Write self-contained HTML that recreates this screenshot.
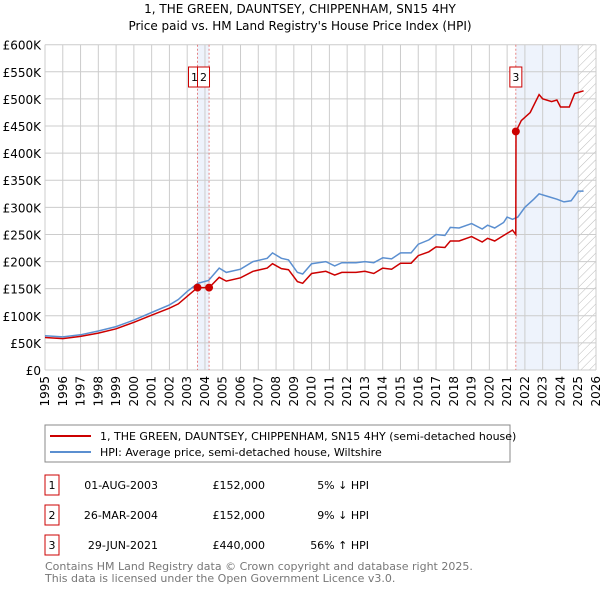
<!DOCTYPE html>
<html><head><meta charset="utf-8"><style>
body{margin:0;background:#fff;font-family:"Liberation Sans","DejaVu Sans",sans-serif;}
svg text{font-family:"DejaVu Sans","Liberation Sans",sans-serif;}
</style></head><body>
<svg id="c" width="600" height="590" xmlns="http://www.w3.org/2000/svg">
<defs><pattern id="h" width="6" height="6" patternUnits="userSpaceOnUse" patternTransform="rotate(45)"><line x1="0" y1="0" x2="0" y2="6" stroke="#bbb" stroke-width="1"/></pattern></defs>
<text x="300" y="13" text-anchor="middle" font-size="12">1, THE GREEN, DAUNTSEY, CHIPPENHAM, SN15 4HY</text>
<text x="300" y="30" text-anchor="middle" font-size="12">Price paid vs. HM Land Registry's House Price Index (HPI)</text>
<g id="plot"></g>
<rect x="45" y="425" width="465" height="37" fill="#fff" stroke="#888"/>
<line x1="50" y1="436" x2="91" y2="436" stroke="#cc0000" stroke-width="2"/>
<text x="100" y="440" font-size="11">1, THE GREEN, DAUNTSEY, CHIPPENHAM, SN15 4HY (semi-detached house)</text>
<line x1="50" y1="452" x2="91" y2="452" stroke="#5b8fd0" stroke-width="2"/>
<text x="100" y="456" font-size="11">HPI: Average price, semi-detached house, Wiltshire</text>
<g font-size="11">
<rect x="45" y="475" width="14" height="20" fill="#fff" stroke="#cc0000"/><text x="52" y="489" text-anchor="middle">1</text>
<text x="158" y="489" text-anchor="end">01-AUG-2003</text><text x="265" y="489" text-anchor="end">£152,000</text><text x="369" y="489" text-anchor="end">5% ↓ HPI</text>
<rect x="45" y="505" width="14" height="20" fill="#fff" stroke="#cc0000"/><text x="52" y="519" text-anchor="middle">2</text>
<text x="158" y="519" text-anchor="end">26-MAR-2004</text><text x="265" y="519" text-anchor="end">£152,000</text><text x="369" y="519" text-anchor="end">9% ↓ HPI</text>
<rect x="45" y="535" width="14" height="20" fill="#fff" stroke="#cc0000"/><text x="52" y="549" text-anchor="middle">3</text>
<text x="158" y="549" text-anchor="end">29-JUN-2021</text><text x="265" y="549" text-anchor="end">£440,000</text><text x="369" y="549" text-anchor="end">56% ↑ HPI</text>
</g>
<text x="45" y="570" font-size="11" fill="#777">Contains HM Land Registry data © Crown copyright and database right 2025.</text>
<text x="45" y="582" font-size="11" fill="#777">This data is licensed under the Open Government Licence v3.0.</text>
</svg>
<script>
const yTicks=[0,50,100,150,200,250,300,350,400,450,500,550,600];
const yearTicks=[1995,1996,1997,1998,1999,2000,2001,2002,2003,2004,2005,2006,2007,2008,2009,2010,2011,2012,2013,2014,2015,2016,2017,2018,2019,2020,2021,2022,2023,2024,2025,2026];
const hpiT=[1995,1996,1997,1998,1999,2000,2001,2002,2002.5,2003,2003.6,2004.2,2004.8,2005.2,2006,2006.7,2007.5,2007.8,2008.3,2008.7,2009.2,2009.5,2010,2010.8,2011.3,2011.7,2012.5,2013,2013.5,2014,2014.5,2015,2015.6,2016,2016.6,2017,2017.5,2017.8,2018.3,2019,2019.6,2019.9,2020.3,2020.8,2021,2021.3,2021.6,2022,2022.5,2022.8,2023.3,2023.8,2024.2,2024.6,2025,2025.3];
const hpiV=[63,61,65,72,80,92,106,120,130,145,160,165,188,180,186,200,206,216,206,203,180,177,196,200,192,198,198,200,198,207,205,216,216,232,240,250,248,263,262,270,260,267,262,272,282,278,282,300,315,325,320,315,310,312,330,330];
const priceT=[1995,1996,1997,1998,1999,2000,2001,2002,2002.5,2003,2003.58,2004.23,2004.8,2005.2,2006,2006.7,2007.5,2007.8,2008.3,2008.7,2009.2,2009.5,2010,2010.8,2011.3,2011.7,2012.5,2013,2013.5,2014,2014.5,2015,2015.6,2016,2016.6,2017,2017.5,2017.8,2018.3,2019,2019.6,2019.9,2020.3,2020.8,2021.3,2021.49,2021.5,2021.8,2022.3,2022.8,2023,2023.5,2023.8,2024,2024.5,2024.8,2025.3];
const priceV=[60,58,62,68,76,88,101,114,122,136,152,152,171,164,170,182,188,196,187,185,163,160,178,182,175,180,180,182,178,188,186,197,197,211,218,227,226,238,238,246,236,243,238,248,258,250,440,460,475,508,500,495,498,485,485,510,515];
const saleT=[2003.58,2004.23,2021.49];
const saleV=[152,152,440];
const saleLabels=["1","2","3"];
const NS="http://www.w3.org/2000/svg";
const L=45,R=596,T=44.7,B=370;
const x=v=>L+(v-1995)/(2026-1995)*(R-L);
const y=v=>B-v/600*(B-T);
const g=document.getElementById('plot');
function mk(t,a){const e=document.createElementNS(NS,t);for(const k in a)e.setAttribute(k,a[k]);g.appendChild(e);return e;}
let e;
e=mk('rect',{x:x(2003.58),y:T,width:x(2004.23)-x(2003.58),height:B-T,fill:'#eef3fc'});


e=mk('rect',{x:x(2021.49),y:T,width:x(2025)-x(2021.49),height:B-T,fill:'#eef3fc'});


e=mk('rect',{x:x(2025),y:T,width:R-x(2025),height:B-T,fill:'url(#h)'});


yTicks.forEach(v=>{
 e=mk('line',{x1:L,x2:R,y1:y(v),y2:y(v),stroke:'#ccc'});
 
 
 e=mk('text',{x:L-4,y:y(v)+5,'text-anchor':'end','font-size':'12'});e.textContent=v===0?'£0':'£'+v+'K';
 
 
});
yearTicks.forEach(v=>{
 e=mk('line',{x1:x(v),x2:x(v),y1:T,y2:B,stroke:'#ccc'});
 
 
 e=mk('text',{x:0,y:0,'text-anchor':'end','font-size':'12',transform:`translate(${x(v)+4},${B+6}) rotate(-90)`});e.textContent=v;
 
 
});
saleT.forEach((t,i)=>{
 e=mk('line',{x1:x(t),x2:x(t),y1:T,y2:B,stroke:'#e06666','stroke-dasharray':'2,2','stroke-width':0.8});
 
 
});
function path(ts,vs){return ts.map((t,i)=>(i?'L':'M')+x(t).toFixed(1)+','+y(vs[i]).toFixed(1)).join('');}
e=mk('path',{d:path(hpiT,hpiV),fill:'none',stroke:'#5b8fd0','stroke-width':1.5});


e=mk('path',{d:path(priceT,priceV),fill:'none',stroke:'#cc0000','stroke-width':1.5});


saleT.forEach((t,i)=>{
 e=mk('circle',{cx:x(t),cy:y(saleV[i]),r:4,fill:'#cc0000'});
 
 
});
const boxX=[x(saleT[0])-12,x(saleT[1])-3,x(saleT[2])-9];
saleLabels.forEach((s,i)=>{
 const bx=i===0?x(saleT[0])-9:i===1?x(saleT[0]):x(saleT[2])-6;
 e=mk('rect',{x:bx,y:67,width:12,height:20,fill:'#fff',stroke:'#cc0000'});
 
 
 e=mk('text',{x:bx+6,y:81,'text-anchor':'middle','font-size':'11'});e.textContent=s;
 
 
});
</script>
</body></html>
